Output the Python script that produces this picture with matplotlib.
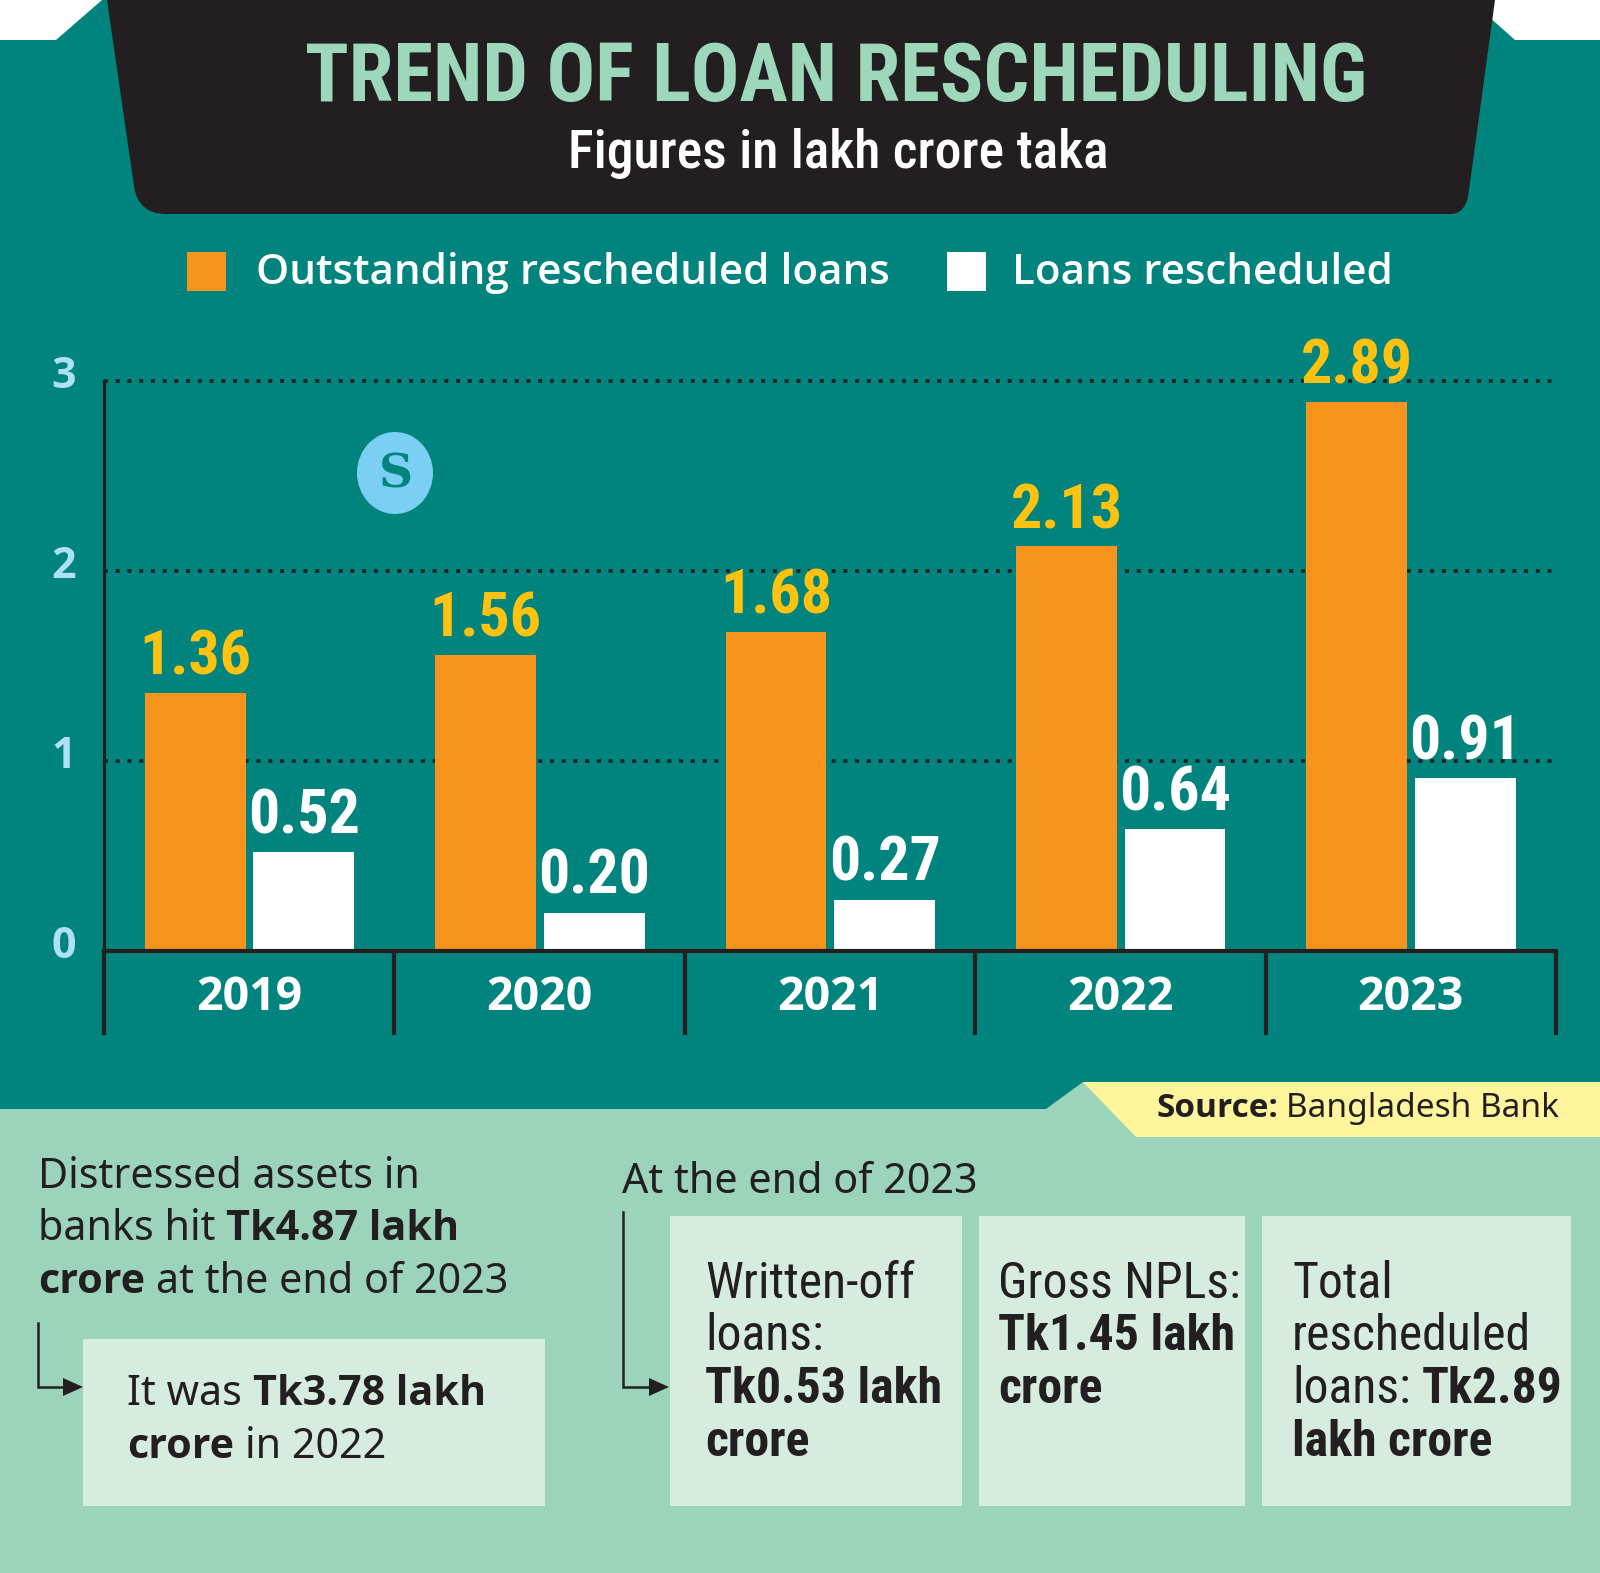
import os
import numpy as np
import matplotlib
matplotlib.use('Agg')
import matplotlib.pyplot as plt
import matplotlib.transforms as mtransforms
from matplotlib import font_manager as fm
from matplotlib.font_manager import FontProperties
from matplotlib.patches import Rectangle, Polygon, Ellipse, PathPatch
from matplotlib.path import Path

# ---------------- data ----------------
years = ['2019', '2020', '2021', '2022', '2023']
outstanding = [1.36, 1.56, 1.68, 2.13, 2.89]
rescheduled = [0.52, 0.20, 0.27, 0.64, 0.91]
y_ticks = [0, 1, 2, 3]
series_names = ['Outstanding rescheduled loans', 'Loans rescheduled']

title = 'TREND OF LOAN RESCHEDULING'
subtitle = 'Figures in lakh crore taka'
source_bold = 'Source:'
source_text = 'Bangladesh Bank'
left_lines = [[('Distressed assets in', False)],
              [('banks hit', False), ('Tk4.87 lakh', True)],
              [('crore', True), ('at the end of 2023', False)]]
left_box_lines = [[('It was', False), ('Tk3.78 lakh', True)],
                  [('crore', True), ('in 2022', False)]]
right_heading = 'At the end of 2023'
box_texts = [
    [[('Written-off', False)], [('loans:', False)], [('Tk0.53 lakh', True)], [('crore', True)]],
    [[('Gross NPLs:', False)], [('Tk1.45 lakh', True)], [('crore', True)]],
    [[('Total', False)], [('rescheduled', False)], [('loans:', False), ('Tk2.89', True)], [('lakh crore', True)]],
]

# ---------------- colours ----------------
TEAL = '#00847D'
MINT = '#9BD4BB'
PALE = '#D5ECDF'
YELLOW_BAND = '#FFF59D'
DARK = '#231F20'
TITLE_C = '#9DD8BD'
ORANGE = '#F7941D'
LABEL_Y = '#FFC20E'
TICK_BLUE = '#AEE0F7'
LOGO = '#7ACFF3'

# ---------------- fonts ----------------
STRIP = {'condensed', 'semicondensed', 'extracondensed', 'ultracondensed', 'narrow', 'semi', 'extra',
         'cond', 'bold', 'light', 'medium', 'black', 'thin', 'semibold', 'extrabold', 'extralight',
         'regular', 'demibold', 'heavy', 'book'}


def _weight(f):
    w = f.weight
    if isinstance(w, str):
        w = fm.weight_dict.get(w, 400)
    return int(w)


def _stretch(f):
    fn = os.path.basename(f.fname).lower().replace('-', '').replace('_', '')
    nm = f.name.lower().replace(' ', '')
    s = str(f.stretch).lower()
    if 'extracondensed' in fn or 'extracondensed' in nm or s == 'extra-condensed':
        return 'extra-condensed'
    if 'ultracondensed' in fn or s == 'ultra-condensed':
        return 'ultra-condensed'
    if 'semicondensed' in fn or 'semicondensed' in nm or s == 'semi-condensed':
        return 'semi-condensed'
    if 'condensed' in fn or 'narrow' in fn or 'condensed' in nm or 'narrow' in nm or s == 'condensed':
        return 'condensed'
    return 'normal'


def _base(f):
    words = [w for w in f.name.split() if w.lower() not in STRIP]
    return ' '.join(words).lower()


def pick(stretches, weight, fams):
    best = None
    for f in fm.fontManager.ttflist:
        if f.style != 'normal':
            continue
        nm = f.name.lower()
        if 'mono' in nm or 'cjk' in nm:
            continue
        st = _stretch(f)
        if st not in stretches:
            continue
        b = _base(f)
        if b not in [p.lower() for p in fams]:
            continue
        wd = abs(_weight(f) - weight)
        if wd > 150:
            continue
        key = (stretches.index(st), wd, [p.lower() for p in fams].index(b))
        if best is None or key < best[0]:
            best = (key, f.fname)
    if best is None:
        return FontProperties(family='DejaVu Sans', weight=weight)
    return FontProperties(fname=best[1])


COND_FAMS = ['Roboto', 'Noto Sans', 'Open Sans', 'Liberation Sans', 'DejaVu Sans']
HUM_FAMS = ['Noto Sans', 'Open Sans', 'Lato', 'DejaVu Sans']
fp_cond_bold = pick(['condensed', 'semi-condensed', 'extra-condensed'], 700, COND_FAMS)
fp_cond_semi = pick(['condensed', 'semi-condensed', 'extra-condensed'], 500, COND_FAMS)
fp_cond_reg = pick(['condensed', 'semi-condensed', 'extra-condensed'], 400, COND_FAMS)
fp_val = pick(['extra-condensed', 'condensed', 'semi-condensed'], 700, COND_FAMS)
fp_hum_reg = pick(['normal'], 400, HUM_FAMS)
fp_hum_semi = pick(['normal'], 600, HUM_FAMS)
fp_hum_bold = pick(['normal'], 700, HUM_FAMS)

# ---------------- figure ----------------
W, H = 1600, 1573
fig = plt.figure(figsize=(W / 100, H / 100), dpi=100, facecolor='white')
renderer = fig.canvas.get_renderer()

bg = fig.add_axes([0, 0, 1, 1])
bg.set_xlim(0, W)
bg.set_ylim(H, 0)
bg.axis('off')


def sized(fp, size):
    f = fp.copy()
    f.set_size(size)
    return f


def text_w(s, fp, size):
    t = fig.text(0, 0, s, fontproperties=sized(fp, size))
    w = t.get_window_extent(renderer).width
    t.remove()
    return w


def fit(s, fp, target):
    return 100.0 * target / text_w(s, fp, 100.0)


def rich_line(x, y, segs, fp_r, fp_b, size, color, z=5):
    cur = x
    space = text_w('n n', fp_r, size) - text_w('nn', fp_r, size)
    for t, b in segs:
        fp = sized(fp_b if b else fp_r, size)
        txt = bg.text(cur, y, t, fontproperties=fp, color=color, ha='left', va='baseline', zorder=z)
        cur += txt.get_window_extent(renderer).width + space


# background shapes
bg.add_patch(Rectangle((0, 39.5), W, 1110, facecolor=TEAL, edgecolor='none', zorder=0))
bg.add_patch(Polygon([(56, 40), (102, 0), (300, 0), (300, 40)], closed=True,
                     facecolor=TEAL, edgecolor='none', zorder=0))
bg.add_patch(Polygon([(1300, 0), (1470, 0), (1515, 40), (1300, 40)], closed=True,
                     facecolor=TEAL, edgecolor='none', zorder=0))
bg.add_patch(Polygon([(0, 1109), (1046, 1109), (1083, 1082), (W, 1082), (W, H), (0, H)], closed=True,
                     facecolor=MINT, edgecolor='none', zorder=1))
bg.add_patch(Polygon([(1083, 1082), (W, 1082), (W, 1137), (1136, 1137)], closed=True,
                     facecolor=YELLOW_BAND, edgecolor='none', zorder=2))

banner_verts = [(107, 0), (134, 186), (138, 214), (166, 214), (1450, 214), (1467, 214), (1469, 190),
                (1495, 0), (107, 0)]
banner_codes = [Path.MOVETO, Path.LINETO, Path.CURVE3, Path.CURVE3, Path.LINETO, Path.CURVE3, Path.CURVE3,
                Path.LINETO, Path.CLOSEPOLY]
bg.add_patch(PathPatch(Path(banner_verts, banner_codes), facecolor=DARK, edgecolor='none', zorder=2))

# title
ts = fit(title, fp_cond_bold, 1061)
bg.text(836.5, 101, title, fontproperties=sized(fp_cond_bold, ts), color=TITLE_C,
        ha='center', va='baseline', zorder=5)
ss = fit(subtitle, fp_cond_semi, 541)
bg.text(838.5, 168, subtitle, fontproperties=sized(fp_cond_semi, ss), color='white',
        ha='center', va='baseline', zorder=5)

# legend
ls = fit(series_names[0], fp_hum_semi, 634)
bg.add_patch(Rectangle((187, 252), 39, 39, facecolor=ORANGE, edgecolor='none', zorder=5))
bg.text(256, 284, series_names[0], fontproperties=sized(fp_hum_semi, ls), color='white',
        ha='left', va='baseline', zorder=5)
bg.add_patch(Rectangle((947, 252), 39, 39, facecolor='white', edgecolor='none', zorder=5))
bg.text(1012, 284, series_names[1], fontproperties=sized(fp_hum_semi, ls), color='white',
        ha='left', va='baseline', zorder=5)

# logo
bg.add_patch(Ellipse((395, 473), 76, 82, facecolor=LOGO, edgecolor='none', zorder=3))
bg.text(396, 475, 'S', fontproperties=FontProperties(family='DejaVu Serif', weight='bold', size=34),
        color=TEAL, ha='center', va='center', zorder=4)

# ---------------- bar chart ----------------
ax = fig.add_axes([104 / W, (H - 951) / H, 1452 / W, 3.3 * 190 / H])
ax.patch.set_alpha(0)
ax.set_xlim(-0.5, 4.5)
ax.set_ylim(0, 3.3)
x = np.arange(len(years))
bw = 0.347
ax.bar(x - 0.186, outstanding, bw, color=ORANGE, zorder=3, label=series_names[0])
ax.bar(x + 0.188, rescheduled, bw, color='white', zorder=3, label=series_names[1])

vs = fit('1.36', fp_val, 100) * 1.12
for xi, v in zip(x, outstanding):
    ax.text(xi - 0.186, v + 0.095, f'{v:.2f}', fontproperties=sized(fp_val, vs), color=LABEL_Y,
            ha='center', va='baseline', zorder=6, clip_on=False)
for xi, v in zip(x, rescheduled):
    ax.text(xi + 0.188, v + 0.1, f'{v:.2f}', fontproperties=sized(fp_val, vs), color='white',
            ha='center', va='baseline', zorder=6, clip_on=False)

for s in ['top', 'right']:
    ax.spines[s].set_visible(False)
ax.spines['left'].set_bounds(0, 3)
ax.spines['left'].set_linewidth(2.3)
ax.spines['left'].set_color(DARK)
ax.spines['bottom'].set_linewidth(3.0)
ax.spines['bottom'].set_color(DARK)
ax.spines['bottom'].set_zorder(4)

ax.yaxis.grid(True, linestyle=(0, (1.1, 2.15)), color=DARK, linewidth=2.6, zorder=1)
ax.set_axisbelow(True)

ax.tick_params(axis='y', length=0, pad=40 * 0.72)
ax.tick_params(axis='x', which='major', length=0, pad=59 * 0.72)
ax.tick_params(axis='x', which='minor', length=84 * 0.72, width=3.0, direction='out', color=DARK)

ys = fit('2019', fp_hum_bold, 106)
ax.set_xticks(x, labels=years, fontproperties=sized(fp_hum_bold, ys), color='white', va='baseline')
ax.set_xticks(np.arange(-0.5, len(years) + 0.5, 1.0), minor=True)
ax.set_yticks(y_ticks, labels=[str(v) for v in y_ticks], fontproperties=sized(fp_hum_bold, 31),
              color=TICK_BLUE, ha='center', va='baseline')
off = mtransforms.ScaledTranslation(0, -7 / 100, fig.dpi_scale_trans)
for lbl in ax.get_yticklabels():
    lbl.set_transform(lbl.get_transform() + off)

# ---------------- source ----------------
src_size = fit(source_bold + ' ' + source_text, fp_hum_reg, 398)
rich_line(1156, 1117, [(source_bold, True), (source_text, False)], fp_hum_reg, fp_hum_bold, src_size, DARK)

# ---------------- bottom notes ----------------
bs = fit('Distressed assets in', fp_hum_reg, 382)
for i, segs in enumerate(left_lines):
    rich_line(38, 1188 + i * 52.5, segs, fp_hum_reg, fp_hum_bold, bs, DARK)

bg.add_patch(Rectangle((83, 1339), 462, 167, facecolor=PALE, edgecolor='none', zorder=3))
for i, segs in enumerate(left_box_lines):
    rich_line(127, 1405 + i * 52.5, segs, fp_hum_reg, fp_hum_bold, bs, DARK)

# left arrow
bg.plot([38, 38, 66], [1323, 1387, 1387], color=DARK, lw=1.8, solid_joinstyle='miter', zorder=4)
bg.add_patch(Polygon([(63, 1378), (83, 1387), (63, 1396)], closed=True, facecolor=DARK, edgecolor='none', zorder=4))

rich_line(622, 1193, [(right_heading, False)], fp_hum_reg, fp_hum_bold, bs, DARK)
bg.plot([623, 623, 652], [1212, 1387, 1387], color=DARK, lw=1.8, solid_joinstyle='miter', zorder=4)
bg.add_patch(Polygon([(649, 1378), (669, 1387), (649, 1396)], closed=True, facecolor=DARK, edgecolor='none', zorder=4))

box_x = [(670, 962), (979, 1245), (1262, 1571)]
text_x = [705, 998, 1292]
cs = fit('Written-off', fp_cond_reg, 210)
for (x0, x1), tx, lines in zip(box_x, text_x, box_texts):
    bg.add_patch(Rectangle((x0, 1216), x1 - x0, 290, facecolor=PALE, edgecolor='none', zorder=3))
    for i, segs in enumerate(lines):
        rich_line(tx, 1298 + i * 52.5, segs, fp_cond_reg, fp_cond_bold, cs, DARK)

fig.savefig('out.png', dpi=100, facecolor='white')
